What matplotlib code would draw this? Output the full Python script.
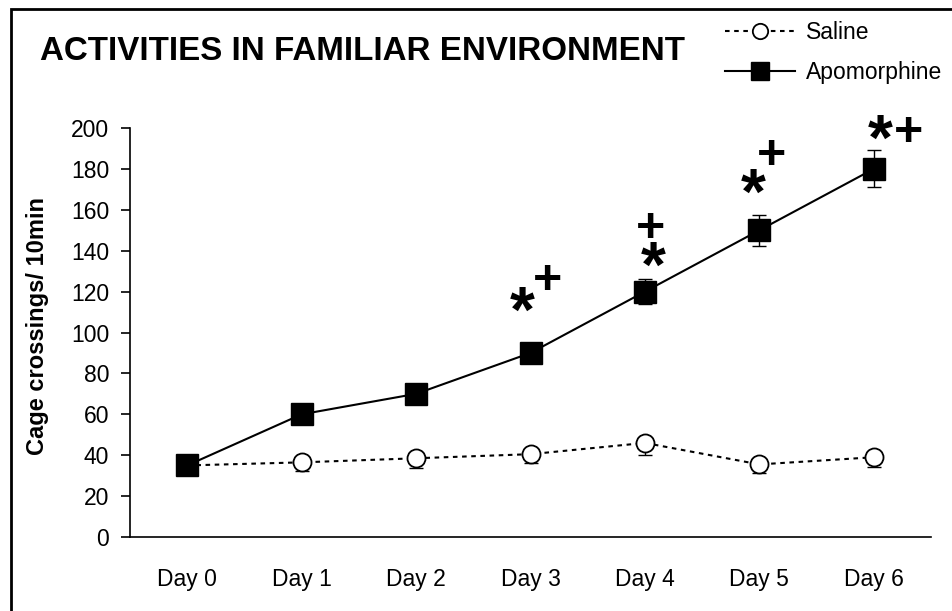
import matplotlib
matplotlib.use("Agg")
import matplotlib.pyplot as plt
from matplotlib.patches import Rectangle

plt.rcParams["font.family"] = ["Liberation Sans", "DejaVu Sans"]

days = ["Day 0", "Day 1", "Day 2", "Day 3", "Day 4", "Day 5", "Day 6"]
saline = [35, 36.5, 38.5, 40.5, 46, 35.5, 39]
saline_err = [3, 4, 5, 4.5, 6, 4, 5]
apo = [35, 60, 70, 90, 120, 150, 180]
apo_err = [0, 0, 0, 0, 6, 7.5, 9]

# significance marks: (symbol, x, y) - anchor of the glyph
marks = [
    ("*", 2.93, 108.8), ("+", 3.15, 125.3),
    ("+", 4.05, 150.7), ("*", 4.07, 130.8),
    ("*", 4.95, 166.4), ("+", 5.11, 186.3),
    ("*", 6.06, 192.7), ("+", 6.30, 197.5),
]
mark_size = {"*": 46, "+": 36}

fig = plt.figure(figsize=(9.52, 6.11), dpi=100)
ax = fig.add_axes([130 / 952, 1 - 537 / 611, (931 - 130) / 952, (537 - 128) / 611])

x = list(range(len(days)))

# saline: only the lower error bar shows
ax.errorbar(x, saline, yerr=[saline_err, [0] * len(x)], fmt="none",
            ecolor="black", elinewidth=1, capsize=5, capthick=1, zorder=2)
ax.plot(x, saline, linestyle=(0, (2.2, 2.2)), color="black", lw=1.5,
        marker="o", markersize=13, markerfacecolor="white",
        markeredgecolor="black", markeredgewidth=1.3, label="Saline", zorder=3)

ax.errorbar(x, apo, yerr=apo_err, fmt="none", ecolor="black",
            elinewidth=1, capsize=5, capthick=1, zorder=2)
ax.plot(x, apo, linestyle="-", color="black", lw=1.5, marker="s",
        markersize=16, markerfacecolor="black", markeredgecolor="black",
        label="Apomorphine", zorder=4)

for sym, mx, my in marks:
    ax.text(mx, my, sym, ha="center", va="center", fontsize=mark_size[sym],
            fontweight="bold", zorder=5)

ax.set_xlim(-0.5, 6.5)
ax.set_ylim(0, 200)
ax.set_xticks(x)
ax.set_xticklabels(days, fontsize=16.5)
ax.set_yticks(range(0, 201, 20))
ax.tick_params(axis="y", direction="out", length=6.5, width=1.2, labelsize=16.5, pad=8.5)
ax.tick_params(axis="x", length=0, pad=22)

ax.spines["top"].set_visible(False)
ax.spines["right"].set_visible(False)
ax.spines["left"].set_linewidth(1.2)
ax.spines["bottom"].set_linewidth(1.2)

ax.set_ylabel("Cage crossings/ 10min", fontsize=17, fontweight="bold")
ax.yaxis.set_label_coords((49 - 130) / 801, 0.515)

fig.text(40 / 952, 1 - 51 / 611, "ACTIVITIES IN FAMILIAR ENVIRONMENT",
         fontsize=23.9, fontweight="bold", ha="left", va="center")

fig.legend(loc="upper left", bbox_to_anchor=(725 / 952, 1 - 21 / 611),
           frameon=False, fontsize=16.5, handlelength=3.05, handletextpad=0.48,
           labelspacing=0.75, borderpad=0, borderaxespad=0, markerscale=0.85)

# outer frame around the whole picture
fig.patches.append(Rectangle((11 / 952, -0.05), 1.1, 1 - 9 / 611 + 0.05,
                             transform=fig.transFigure, fill=False,
                             edgecolor="black", linewidth=2))

fig.savefig("out.png", dpi=100)
